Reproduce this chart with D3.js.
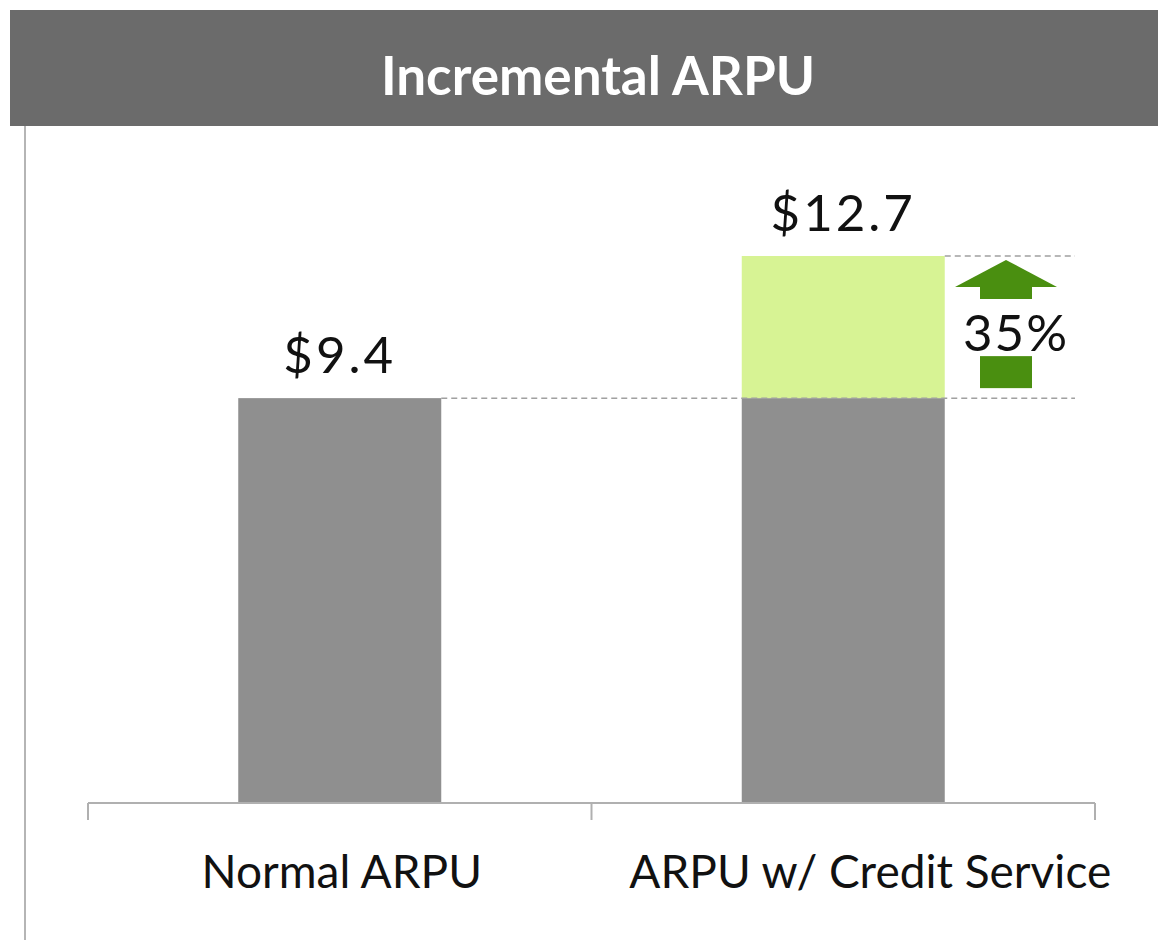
<!DOCTYPE html>
<html>
<head>
<meta charset="utf-8">
<script src="https://cdn.jsdelivr.net/npm/d3@7"></script>
<style>
  body { margin: 0; background: #fff; }
  text { font-family: Lato, "Open Sans", sans-serif; }
</style>
</head>
<body>
<script>
var categories = ["Normal ARPU", "ARPU w/ Credit Service"],
    baseValues = [9.4, 9.4],
    incrementValues = [0, 3.3],
    totalLabels = ["$9.4", "$12.7"],
    growthLabel = "35%";

var w = 1158,
    h = 940;

var svg = d3.select("body")
    .append("svg")
    .attr("width", w)
    .attr("height", h);

// header band
svg.append("rect")
    .attr("x", 10).attr("y", 10)
    .attr("width", w - 10).attr("height", 116)
    .attr("fill", "#6b6b6b");

svg.append("text")
    .attr("x", 598).attr("y", 95)
    .attr("text-anchor", "middle")
    .attr("fill", "#fff")
    .attr("font-size", 53)
    .attr("font-weight", "bold")
    .text("Incremental ARPU");

// left frame line
svg.append("line")
    .attr("x1", 25).attr("x2", 25)
    .attr("y1", 126).attr("y2", h)
    .attr("stroke", "#b5b5b5")
    .attr("stroke-width", 2);

var x = d3.scaleBand()
    .domain(categories)
    .range([88, 1095])
    .paddingInner(0);

var y = d3.scaleLinear()
    .domain([0, 12.7])
    .range([803, 256]);

var barW = 203;

var data = categories.map(function (c, i) {
    return { cat: c, base: baseValues[i], inc: incrementValues[i], label: totalLabels[i] };
});

// gray base bars
svg.selectAll(".base")
    .data(data)
    .enter()
    .append("rect")
    .attr("class", "base")
    .attr("x", function (d) { return x(d.cat) + x.bandwidth() / 2 - barW / 2; })
    .attr("y", function (d) { return y(d.base); })
    .attr("width", barW)
    .attr("height", function (d) { return y(0) - y(d.base); })
    .attr("fill", "#8f8f8f");

// green increment
svg.selectAll(".inc")
    .data(data.filter(function (d) { return d.inc > 0; }))
    .enter()
    .append("rect")
    .attr("class", "inc")
    .attr("x", function (d) { return x(d.cat) + x.bandwidth() / 2 - barW / 2; })
    .attr("y", function (d) { return y(d.base + d.inc); })
    .attr("width", barW)
    .attr("height", function (d) { return y(d.base) - y(d.base + d.inc); })
    .attr("fill", "#d7f394");

// dashed reference lines
var right = data[1];
var xr = x(right.cat) + x.bandwidth() / 2 + barW / 2;
svg.append("line")
    .attr("x1", x(data[0].cat) + x.bandwidth() / 2 + barW / 2)
    .attr("x2", 1075)
    .attr("y1", y(data[0].base)).attr("y2", y(data[0].base))
    .attr("stroke", "#a0a0a0").attr("stroke-width", 1.5)
    .attr("stroke-dasharray", "6,4");
svg.append("line")
    .attr("x1", xr).attr("x2", 1075)
    .attr("y1", y(right.base + right.inc)).attr("y2", y(right.base + right.inc))
    .attr("stroke", "#a0a0a0").attr("stroke-width", 1.5)
    .attr("stroke-dasharray", "6,4");

// value labels
svg.selectAll(".val")
    .data(data)
    .enter()
    .append("text")
    .attr("class", "val")
    .attr("x", function (d) { return x(d.cat) + x.bandwidth() / 2; })
    .attr("y", function (d) { return y(d.base + d.inc) - 25; })
    .attr("text-anchor", "middle")
    .attr("font-size", 51)
    .attr("letter-spacing", 3)
    .attr("fill", "#111")
    .text(function (d) { return d.label; });

// growth arrow
var ax = 1006,
    yTop = y(right.base + right.inc),
    yBot = y(right.base);
var arrowG = svg.append("g").attr("fill", "#4a8f10");
arrowG.append("path")
    .attr("d", "M" + (ax - 51) + "," + (yTop + 31) +
        " L" + ax + "," + (yTop + 4) +
        " L" + (ax + 51) + "," + (yTop + 31) + " Z");
arrowG.append("rect")
    .attr("x", ax - 26).attr("y", yTop + 30)
    .attr("width", 52).attr("height", 13);
arrowG.append("rect")
    .attr("x", ax - 26).attr("y", yBot - 42)
    .attr("width", 52).attr("height", 32);

svg.append("text")
    .attr("x", ax + 10).attr("y", yTop + 95)
    .attr("text-anchor", "middle")
    .attr("font-size", 51)
    .attr("letter-spacing", 2)
    .attr("fill", "#111")
    .text(growthLabel);

// x axis
var axis = svg.append("g")
    .attr("transform", "translate(0," + y(0) + ")")
    .call(d3.axisBottom(x).tickSize(0).tickPadding(52));
axis.select(".domain").remove();
axis.selectAll("text")
    .attr("font-size", 46)
    .attr("fill", "#111")
    .attr("font-family", "Lato, 'Open Sans', sans-serif")
    .attr("dx", function (d, i) { return i == 1 ? 27 : 2; });

var edges = [x.range()[0], x(categories[1]), x.range()[1]];
axis.append("line")
    .attr("x1", edges[0]).attr("x2", edges[2])
    .attr("y1", 0).attr("y2", 0)
    .attr("stroke", "#b0b0b0").attr("stroke-width", 2);
axis.selectAll(".edge")
    .data(edges)
    .enter()
    .append("line")
    .attr("class", "edge")
    .attr("x1", function (d) { return d; })
    .attr("x2", function (d) { return d; })
    .attr("y1", 0).attr("y2", 17)
    .attr("stroke", "#b0b0b0").attr("stroke-width", 2);
</script>
</body>
</html>
